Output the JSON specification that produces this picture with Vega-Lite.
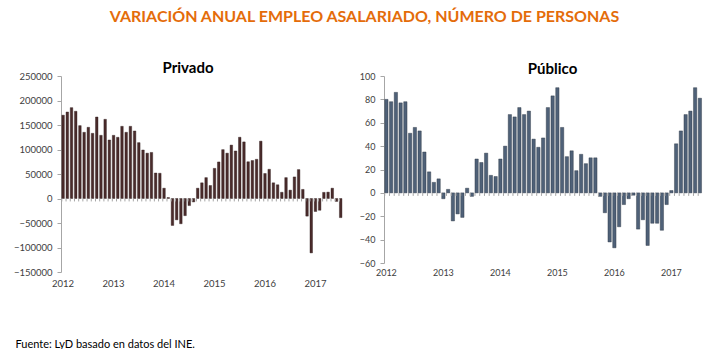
{
  "$schema": "https://vega.github.io/schema/vega-lite/v6.json",
  "padding": {"left": 0, "top": 9, "right": 0, "bottom": 0},
  "background": "white",
  "title": {
    "text": "VARIACIÓN ANUAL EMPLEO ASALARIADO, NÚMERO DE PERSONAS",
    "font": "Lato", "fontSize": 16, "fontWeight": "bold", "color": "#E46C0A",
    "anchor": "middle", "offset": 36, "dx": 11
  },
  "config": {
    "view": {"stroke": null},
    "font": "Lato",
    "axis": {"labelFont": "Lato", "labelColor": "#404040", "grid": false, "domainColor": "#a6a6a6", "tickColor": "#a6a6a6", "labelOverlap": false}
  },
  "spacing": 12,
  "datasets": {
    "privado": [
      {"m": "2012-01", "v": 170000}, {"m": "2012-02", "v": 176500}, {"m": "2012-03", "v": 185400}, {"m": "2012-04", "v": 178000},
      {"m": "2012-05", "v": 148700}, {"m": "2012-06", "v": 135100}, {"m": "2012-07", "v": 145300}, {"m": "2012-08", "v": 133000},
      {"m": "2012-09", "v": 166300}, {"m": "2012-10", "v": 128900}, {"m": "2012-11", "v": 161600}, {"m": "2012-12", "v": 119400},
      {"m": "2013-01", "v": 128900}, {"m": "2013-02", "v": 124900}, {"m": "2013-03", "v": 147300}, {"m": "2013-04", "v": 135100},
      {"m": "2013-05", "v": 147300}, {"m": "2013-06", "v": 137800}, {"m": "2013-07", "v": 114000}, {"m": "2013-08", "v": 99000},
      {"m": "2013-09", "v": 92500}, {"m": "2013-10", "v": 94000}, {"m": "2013-11", "v": 52000}, {"m": "2013-12", "v": 51500},
      {"m": "2014-01", "v": 21000}, {"m": "2014-02", "v": 2000}, {"m": "2014-03", "v": -55000}, {"m": "2014-04", "v": -43500},
      {"m": "2014-05", "v": -51500}, {"m": "2014-06", "v": -35000}, {"m": "2014-07", "v": -14500}, {"m": "2014-08", "v": -7000},
      {"m": "2014-09", "v": 21000}, {"m": "2014-10", "v": 32000}, {"m": "2014-11", "v": 42600}, {"m": "2014-12", "v": 26500},
      {"m": "2015-01", "v": 61500}, {"m": "2015-02", "v": 74600}, {"m": "2015-03", "v": 99700}, {"m": "2015-04", "v": 92500},
      {"m": "2015-05", "v": 109000}, {"m": "2015-06", "v": 97000}, {"m": "2015-07", "v": 125000}, {"m": "2015-08", "v": 115500},
      {"m": "2015-09", "v": 75000}, {"m": "2015-10", "v": 77500}, {"m": "2015-11", "v": 80000}, {"m": "2015-12", "v": 117000},
      {"m": "2016-01", "v": 51000}, {"m": "2016-02", "v": 59600}, {"m": "2016-03", "v": 32000}, {"m": "2016-04", "v": 28000},
      {"m": "2016-05", "v": 12700}, {"m": "2016-06", "v": 42600}, {"m": "2016-07", "v": 17000}, {"m": "2016-08", "v": 44000},
      {"m": "2016-09", "v": 59000}, {"m": "2016-10", "v": 18500}, {"m": "2016-11", "v": -36000}, {"m": "2016-12", "v": -111000},
      {"m": "2017-01", "v": -26500}, {"m": "2017-02", "v": -24000}, {"m": "2017-03", "v": 12500}, {"m": "2017-04", "v": 13000},
      {"m": "2017-05", "v": 21000}, {"m": "2017-06", "v": -6000}, {"m": "2017-07", "v": -39000}
    ],
    "publico": [
      {"m": "2012-01", "v": 80}, {"m": "2012-02", "v": 78}, {"m": "2012-03", "v": 86}, {"m": "2012-04", "v": 77},
      {"m": "2012-05", "v": 78}, {"m": "2012-06", "v": 51}, {"m": "2012-07", "v": 56}, {"m": "2012-08", "v": 53},
      {"m": "2012-09", "v": 35}, {"m": "2012-10", "v": 18}, {"m": "2012-11", "v": 9}, {"m": "2012-12", "v": 12},
      {"m": "2013-01", "v": -5}, {"m": "2013-02", "v": 3}, {"m": "2013-03", "v": -24}, {"m": "2013-04", "v": -18},
      {"m": "2013-05", "v": -21}, {"m": "2013-06", "v": 4}, {"m": "2013-07", "v": -3}, {"m": "2013-08", "v": 29},
      {"m": "2013-09", "v": 26}, {"m": "2013-10", "v": 34}, {"m": "2013-11", "v": 15}, {"m": "2013-12", "v": 14},
      {"m": "2014-01", "v": 29}, {"m": "2014-02", "v": 40}, {"m": "2014-03", "v": 67}, {"m": "2014-04", "v": 65},
      {"m": "2014-05", "v": 73}, {"m": "2014-06", "v": 67}, {"m": "2014-07", "v": 70}, {"m": "2014-08", "v": 46},
      {"m": "2014-09", "v": 39}, {"m": "2014-10", "v": 47}, {"m": "2014-11", "v": 73}, {"m": "2014-12", "v": 83},
      {"m": "2015-01", "v": 90}, {"m": "2015-02", "v": 56}, {"m": "2015-03", "v": 31}, {"m": "2015-04", "v": 36},
      {"m": "2015-05", "v": 19}, {"m": "2015-06", "v": 33}, {"m": "2015-07", "v": 25}, {"m": "2015-08", "v": 30},
      {"m": "2015-09", "v": 30}, {"m": "2015-10", "v": -3}, {"m": "2015-11", "v": -17}, {"m": "2015-12", "v": -42},
      {"m": "2016-01", "v": -47}, {"m": "2016-02", "v": -29}, {"m": "2016-03", "v": -10}, {"m": "2016-04", "v": -5},
      {"m": "2016-05", "v": -2}, {"m": "2016-06", "v": -31}, {"m": "2016-07", "v": -23}, {"m": "2016-08", "v": -45},
      {"m": "2016-09", "v": -26}, {"m": "2016-10", "v": -26}, {"m": "2016-11", "v": -32}, {"m": "2016-12", "v": -10},
      {"m": "2017-01", "v": 2}, {"m": "2017-02", "v": 42}, {"m": "2017-03", "v": 53}, {"m": "2017-04", "v": 67},
      {"m": "2017-05", "v": 70}, {"m": "2017-06", "v": 90}, {"m": "2017-07", "v": 81}
    ]
  },
  "hconcat": [
    {
      "width": 286, "height": 196,
      "data": {"name": "privado"},
      "title": {"text": "Privado", "font": "Lato", "fontSize": 15, "fontWeight": "bold", "color": "#000000", "anchor": "middle", "offset": -5, "dx": -16},
      "encoding": {
        "x": {"field": "m", "type": "ordinal", "sort": null,
          "scale": {"paddingInner": 0.4, "paddingOuter": 0.2},
          "axis": {"domain": false, "ticks": false, "labelAngle": 0, "labelFontSize": 9.5, "labelPadding": 6,
            "labelExpr": "substring(datum.value,5,7)=='01' ? substring(datum.value,0,4) : ''",
            "title": "Fuente: LyD basado en datos del INE.", "titleFont": "Lato", "titleFontSize": 11, "titleFontWeight": "normal",
            "titleColor": "#000000", "titleAnchor": "start", "titleAlign": "left", "titleBaseline": "alphabetic", "titleX": -46, "titleY": 75}}
      },
      "layer": [
        {"mark": {"type": "bar", "color": "#4a2b2b", "stroke": "#2b1818", "strokeWidth": 0.4},
         "encoding": {"y": {"field": "v", "type": "quantitative",
           "scale": {"domain": [-150000, 250000], "nice": false, "zero": true},
           "axis": {"values": [-150000, -100000, -50000, 0, 50000, 100000, 150000, 200000, 250000], "format": "d",
             "labelOverlap": false, "labelSeparation": 0,
             "labelFontSize": 9.5, "tickSize": 4, "labelPadding": 5, "minExtent": 61, "maxExtent": 61, "title": null}}}},
        {"mark": {"type": "rule", "color": "#a6a6a6", "strokeWidth": 1},
         "encoding": {"x": {"field": "m", "type": "ordinal", "sort": null, "bandPosition": 0},
           "y": {"datum": 0, "type": "quantitative",
             "axis": {"values": [-150000, -100000, -50000, 0, 50000, 100000, 150000, 200000, 250000], "format": "d",
             "labelOverlap": false, "labelSeparation": 0,
             "labelFontSize": 9.5, "tickSize": 4, "labelPadding": 5, "minExtent": 61, "maxExtent": 61, "title": null}},
           "y2": {"datum": -6000}}},
        {"mark": {"type": "rule", "color": "#a6a6a6", "strokeWidth": 1},
         "data": {"values": [{}]},
         "encoding": {"y": {"datum": 0, "type": "quantitative",
             "axis": {"values": [-150000, -100000, -50000, 0, 50000, 100000, 150000, 200000, 250000], "format": "d",
             "labelOverlap": false, "labelSeparation": 0,
             "labelFontSize": 9.5, "tickSize": 4, "labelPadding": 5, "minExtent": 61, "maxExtent": 61, "title": null}}}}
      ]
    },
    {
      "width": 323, "height": 187,
      "data": {"name": "publico"},
      "title": {"text": "Público", "font": "Lato", "fontSize": 15, "fontWeight": "bold", "color": "#000000", "anchor": "middle", "offset": -5, "dx": 7},
      "encoding": {
        "x": {"field": "m", "type": "ordinal", "sort": null,
          "scale": {"paddingInner": 0.3, "paddingOuter": 0.15},
          "axis": {"domain": false, "ticks": false, "labelAngle": 0, "labelFontSize": 9, "labelPadding": 5,
            "labelExpr": "substring(datum.value,5,7)=='01' ? substring(datum.value,0,4) : ''", "title": null}}
      },
      "layer": [
        {"mark": {"type": "bar", "color": "#4f6178", "stroke": "#26303d", "strokeWidth": 0.4},
         "encoding": {"y": {"field": "v", "type": "quantitative",
           "scale": {"domain": [-60, 100], "nice": false, "zero": true},
           "axis": {"values": [-60, -40, -20, 0, 20, 40, 60, 80, 100],
             "labelOverlap": false, "labelSeparation": 0,
             "labelFontSize": 9, "tickSize": 4, "labelPadding": 5, "minExtent": 24, "maxExtent": 24, "title": null}}}},
        {"mark": {"type": "rule", "color": "#a6a6a6", "strokeWidth": 1},
         "encoding": {"x": {"field": "m", "type": "ordinal", "sort": null, "bandPosition": 0},
           "y": {"datum": 0, "type": "quantitative",
             "axis": {"values": [-60, -40, -20, 0, 20, 40, 60, 80, 100],
             "labelOverlap": false, "labelSeparation": 0,
             "labelFontSize": 9, "tickSize": 4, "labelPadding": 5, "minExtent": 24, "maxExtent": 24, "title": null}},
           "y2": {"datum": -2.6}}},
        {"mark": {"type": "rule", "color": "#a6a6a6", "strokeWidth": 1},
         "data": {"values": [{}]},
         "encoding": {"y": {"datum": 0, "type": "quantitative",
             "axis": {"values": [-60, -40, -20, 0, 20, 40, 60, 80, 100],
             "labelOverlap": false, "labelSeparation": 0,
             "labelFontSize": 9, "tickSize": 4, "labelPadding": 5, "minExtent": 24, "maxExtent": 24, "title": null}}}}
      ]
    }
  ]
}
